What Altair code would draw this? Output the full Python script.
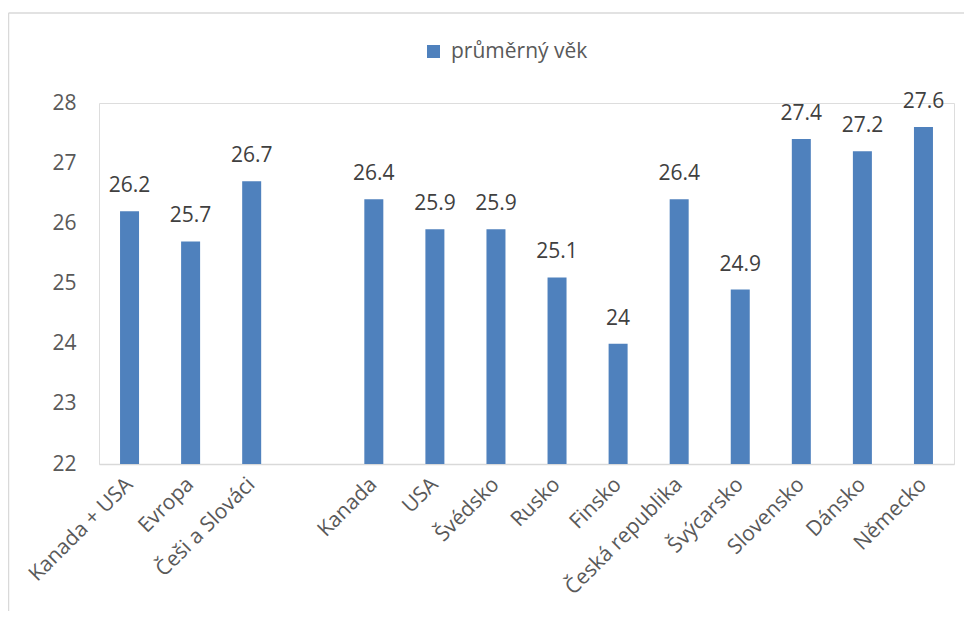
import altair as alt
import pandas as pd

categories = ["Kanada + USA", "Evropa", "Češi a Slováci", " ", "Kanada", "USA", "Švédsko",
              "Rusko", "Finsko", "Česká republika", "Švýcarsko", "Slovensko", "Dánsko", "Německo"]
bar_categories = ["Kanada + USA", "Evropa", "Češi a Slováci", "Kanada", "USA", "Švédsko",
                  "Rusko", "Finsko", "Česká republika", "Švýcarsko", "Slovensko", "Dánsko", "Německo"]
values = [26.2, 25.7, 26.7, 26.4, 25.9, 25.9, 25.1, 24, 26.4, 24.9, 27.4, 27.2, 27.6]
labels = ["26.2", "25.7", "26.7", "26.4", "25.9", "25.9", "25.1", "24", "26.4", "24.9", "27.4", "27.2", "27.6"]
series = "průměrný věk"
y_ticks = [22, 23, 24, 25, 26, 27, 28]

df = pd.DataFrame({"kat": bar_categories, "v": values, "lab": labels, "s": series})

FONT = "Open Sans"
FS = 21
x = alt.X("kat:N", sort=categories,
          scale=alt.Scale(domain=categories, paddingInner=0.69, paddingOuter=0.345),
          axis=alt.Axis(title=None, labelAngle=-45, labelAlign="right", labelBaseline="middle",
                        labelFontSize=FS, labelColor="#595959", labelFont=FONT, ticks=False,
                        domainColor="#D9D9D9", domainWidth=1.5, labelPadding=17, labelLimit=300))
y = alt.Y("v:Q", scale=alt.Scale(domain=[22, 28], zero=False, nice=False),
          axis=alt.Axis(title=None, values=y_ticks, format="d", grid=False, domain=False, ticks=False,
                        labelFontSize=FS, labelColor="#595959", labelFont=FONT, labelPadding=23))

bars = alt.Chart(df).mark_bar(size=19).encode(
    x=x, y=y, y2=alt.datum(22),
    color=alt.Color("s:N", scale=alt.Scale(range=["#4F81BD"]),
                    legend=alt.Legend(title=None, orient="none", legendX=324, legendY=-62,
                                      symbolType="square", symbolSize=169, symbolStrokeWidth=0,
                                      labelFontSize=FS, labelColor="#595959", labelFont=FONT,
                                      labelOffset=7))
)

text = alt.Chart(df).mark_text(fontSize=FS, font=FONT, color="#404040", baseline="middle", dy=-25).encode(
    x=alt.X("kat:N", sort=categories), y="v:Q", text="lab:N"
)

frame = alt.Chart(alt.Data(values=[{"a": 1}])).mark_rule(color="#D9D9D9", strokeWidth=1.5).encode(
    x=alt.value(-90.5), y=alt.value(-90), y2=alt.value(520)
)
frame_top = alt.Chart(alt.Data(values=[{"a": 1}])).mark_rule(color="#D9D9D9", strokeWidth=1.5).encode(
    x=alt.value(-90.5), x2=alt.value(870), y=alt.value(-90)
)

chart = alt.layer(frame, frame_top, bars, text).properties(
    width=855, height=361,
    autosize=alt.AutoSizeParams(type="none"),
    padding={"left": 91, "top": 95, "right": 10, "bottom": 147},
).configure_view(stroke=None).configure(background="white")

chart.save("out.html", embed_options={"renderer": "svg", "actions": False})
